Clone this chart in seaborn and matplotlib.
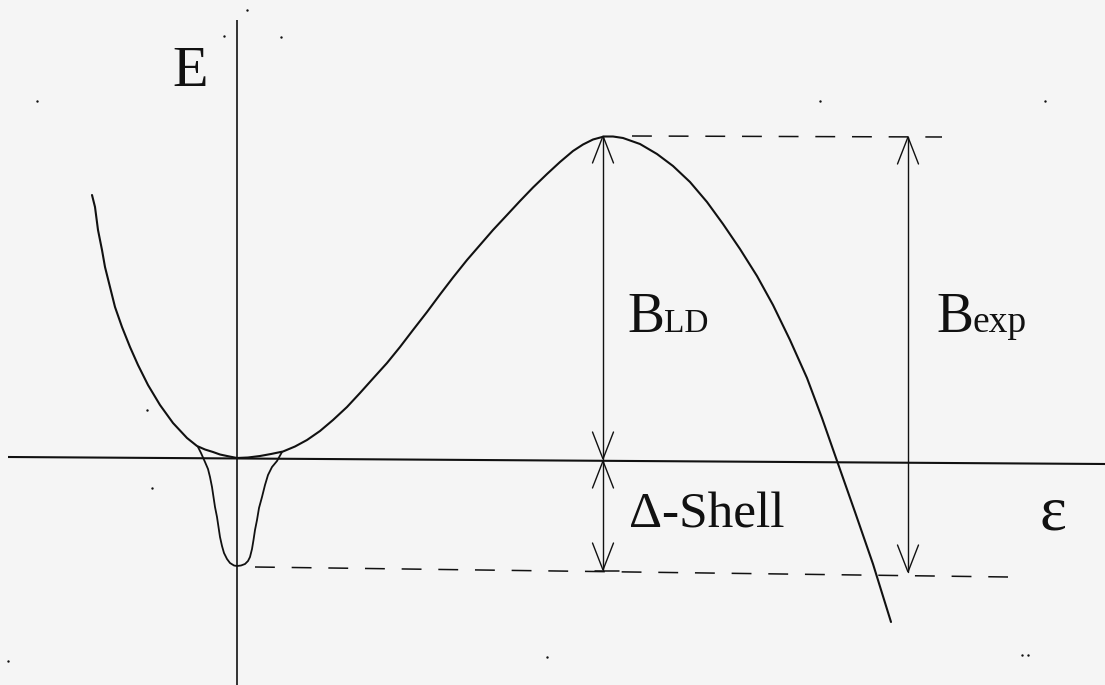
import matplotlib
matplotlib.use("Agg")
import matplotlib.pyplot as plt
import seaborn as sns

# Coordinates are in drawing units (x to the right, y downward, as on the page)

# Liquid-drop energy surface E(eps)
ld_x = [92, 95, 98, 102, 105, 110, 115, 122, 130, 138, 148, 160, 173, 187, 197,
        205, 213, 220, 227, 237, 248, 260, 271, 283, 295, 307, 320, 333, 347, 360,
        373, 387, 400, 413, 427, 440, 453, 467, 480, 493, 507, 520, 533, 547, 560,
        573, 583, 593, 604, 613, 623, 640, 657, 673, 690, 707, 723, 740, 757, 773,
        790, 807, 822, 836, 855, 873, 891]
ld_y = [195, 207, 230, 250, 267, 287, 307, 327, 347, 365, 385, 405, 423, 438, 446,
        449.5, 452, 454.5, 456, 458, 457.5, 456, 454, 451.5, 446.5, 440, 431, 420, 407, 393,
        378.5, 363, 347, 330, 312, 294.5, 277.5, 260, 245, 230, 215, 201, 187.5, 174, 162,
        151, 144.5, 139.5, 136.5, 136.5, 138, 144, 154, 166, 182, 202, 224, 249, 276, 305,
        340, 378, 418, 458, 512, 564, 622]

# Shell-corrected ground-state pocket
sh_x = [198, 201, 205, 208, 210, 212, 213.5, 215, 217, 218.5, 220, 222, 224, 227,
        230, 234, 237, 241, 245, 248, 250, 252, 253.5, 255, 257, 259, 262, 265,
        268, 272, 277, 282]
sh_y = [447, 453, 462, 469, 477, 487, 497, 507, 517, 527, 537, 546, 553, 559,
        563, 565.5, 566, 565.5, 564, 561, 557, 549, 540, 530, 520, 508, 497, 485,
        475, 467, 461, 452]

# Axes of the diagram
eps_axis_x = [8, 1105]
eps_axis_y = [457, 464]
e_axis_x = [237, 237]
e_axis_y = [20, 685]

# Reference levels
barrier_top = 136      # saddle energy
ld_ground = 459        # liquid-drop ground state
shell_ground = 571     # shell-corrected ground state
x_bld = 603
x_bexp = 908

top_dash_x = [632, 942]
top_dash_y = [136, 137]
low_dash_x = [255, 1008]
low_dash_y = [567, 577]

# Stray specks of the scanned sheet
speck_x = [37, 224, 247, 281, 820, 1045, 147, 152, 547, 1022, 1028, 8]
speck_y = [101, 36, 10, 37, 101, 101, 410, 488, 657, 655, 655, 661]

sns.set_theme(style="white")
plt.rcParams["font.family"] = ["Liberation Serif", "DejaVu Serif"]

bg = "#f5f5f5"
ink = "#111111"

fig = plt.figure(figsize=(11.05, 6.85), dpi=100, facecolor=bg)
ax = fig.add_axes([0, 0, 1, 1])
ax.set_facecolor(bg)
ax.set_xlim(0, 1105)
ax.set_ylim(685, 0)
ax.axis("off")

# axes
ax.plot(eps_axis_x, eps_axis_y, color=ink, lw=1.5, solid_capstyle="butt")
ax.plot(e_axis_x, e_axis_y, color=ink, lw=1.2, solid_capstyle="butt")

# curves
sns.lineplot(x=ld_x, y=ld_y, sort=False, estimator=None, color=ink, lw=1.5, ax=ax)
sns.lineplot(x=sh_x, y=sh_y, sort=False, estimator=None, color=ink, lw=1.3, ax=ax)

# dashed reference levels
dash = (0, (13, 11))
ax.plot(top_dash_x, top_dash_y, color=ink, lw=1.1, linestyle=dash)
ax.plot(low_dash_x, low_dash_y, color=ink, lw=1.1, linestyle=dash)
ax.plot([595, 619], [571, 571], color=ink, lw=1.1)


def v_head(x, y, direction, length=27, half=10.5):
    """Open V arrowhead with its tip at (x, y); direction -1 up, +1 down."""
    back = y - direction * length
    ax.plot([x - half, x, x + half], [back, y, back], color=ink, lw=1.0,
            solid_joinstyle="miter")


def dim_arrow(x, y0, y1):
    ax.plot([x, x], [y0, y1], color=ink, lw=1.0)
    v_head(x, y0, -1)
    v_head(x, y1, +1)


dim_arrow(x_bld, barrier_top, ld_ground)
dim_arrow(x_bld, ld_ground + 2, shell_ground - 1)
dim_arrow(x_bexp, barrier_top + 1, shell_ground + 1)

# labels
ax.text(172, 86, "E", fontsize=42, color=ink, ha="left", va="baseline")
ax.text(627, 332, "B", fontsize=40, color=ink, ha="left", va="baseline")
ax.text(664, 332, "LD", fontsize=24, color=ink, ha="left", va="baseline")
ax.text(936, 332, "B", fontsize=40, color=ink, ha="left", va="baseline")
ax.text(972, 332, "exp", fontsize=27, color=ink, ha="left", va="baseline")
ax.text(629, 528, "Δ-Shell", fontsize=37, color=ink, ha="left", va="baseline")
ax.text(1040, 530, "ε", fontsize=46, color=ink, ha="left", va="baseline")

ax.scatter(speck_x, speck_y, s=3, color=ink, linewidths=0)

fig.savefig("out.png", dpi=100, facecolor=bg)
